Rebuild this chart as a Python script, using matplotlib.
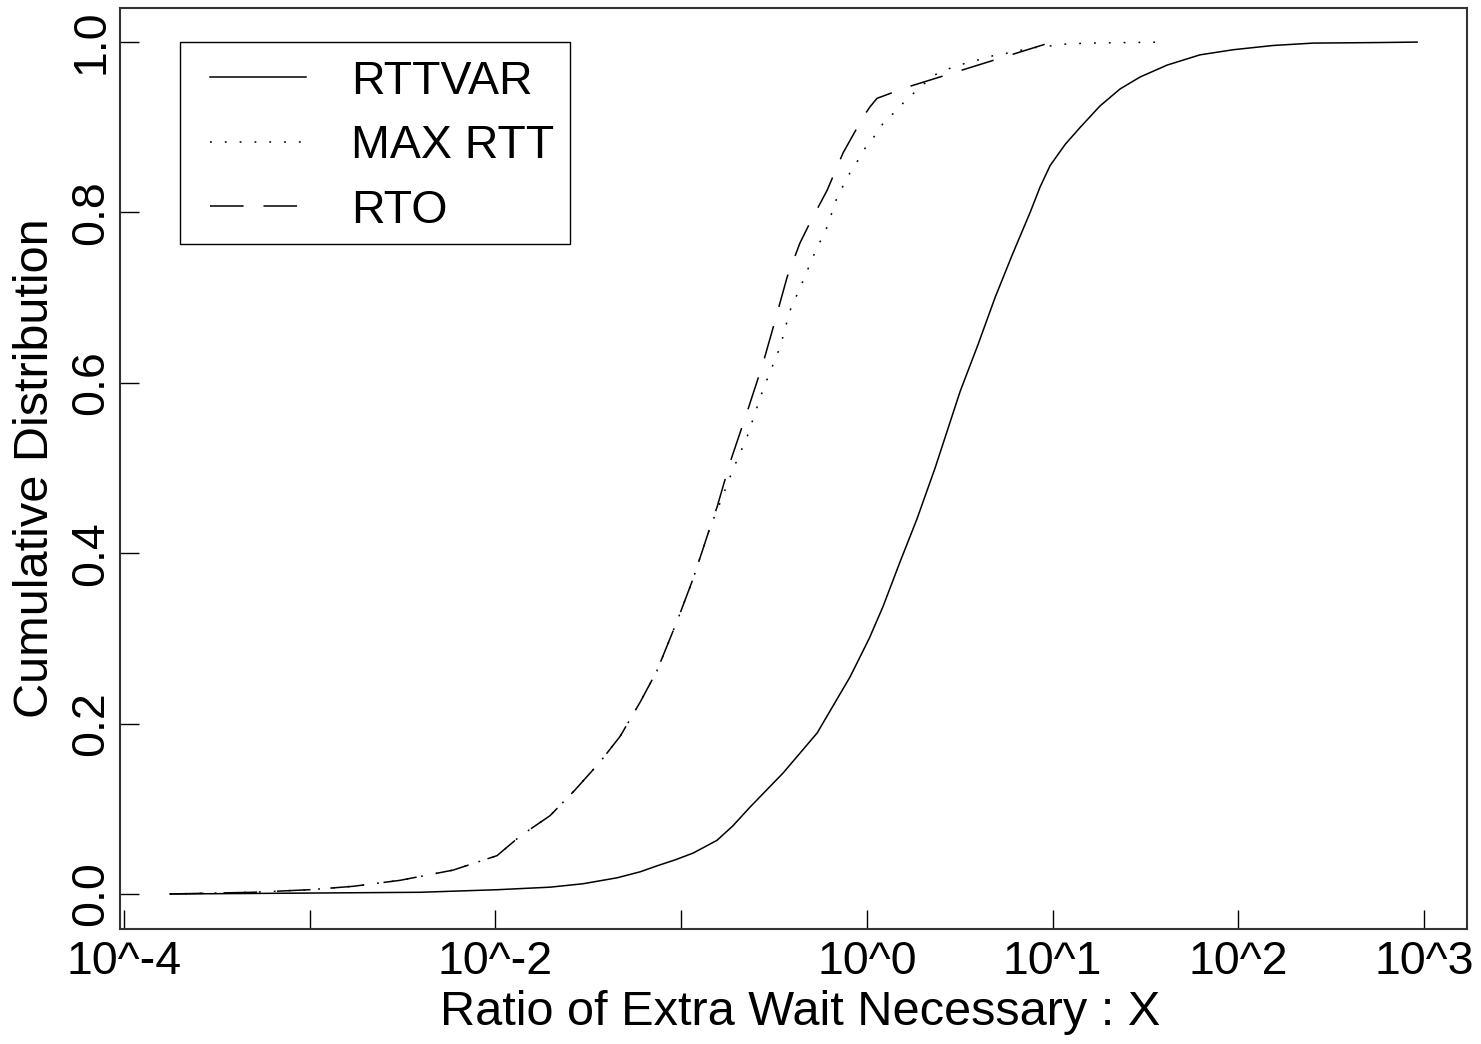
import matplotlib
matplotlib.use("Agg")
import matplotlib.pyplot as plt
from matplotlib.patches import Rectangle

plt.rcParams['font.family'] = ['Liberation Sans', 'DejaVu Sans']

# ---- data (ratio values, cumulative fraction) ----
rttvar_x = [1.77e-4, 8.87e-4, 3.93e-3, 0.0102, 0.0197, 0.0296, 0.0452, 0.0601,
            0.0741, 0.0927, 0.116, 0.156, 0.190, 0.235, 0.354, 0.540, 0.813,
            1.03, 1.22, 1.51, 1.86, 2.33, 3.18, 3.97, 4.90, 6.06, 7.57, 8.57,
            9.70, 11.7, 14.1, 18.0, 23.1, 29.6, 41.4, 62.2, 93.8, 154, 253,
            603, 918]
rttvar_y = [0.0, 0.001, 0.002, 0.005, 0.008, 0.012, 0.019, 0.026,
            0.033, 0.040, 0.048, 0.063, 0.080, 0.102, 0.142, 0.189, 0.255,
            0.30, 0.337, 0.39, 0.44, 0.50, 0.59, 0.645, 0.70, 0.75, 0.80, 0.83,
            0.855, 0.88, 0.90, 0.925, 0.945, 0.959, 0.973, 0.985, 0.991, 0.996,
            0.9988, 0.9995, 1.0]

maxrtt_x = [1.77e-4, 4.95e-4, 1.0e-3, 1.71e-3, 3.06e-3, 5.91e-3, 0.0102, 0.0136,
            0.0197, 0.0268, 0.0366, 0.0469, 0.0601, 0.0741, 0.0950, 0.116, 0.143,
            0.162, 0.190, 0.226, 0.276, 0.341, 0.386, 0.448, 0.513, 0.611, 0.692,
            0.813, 0.919, 1.00, 1.135, 1.25, 1.46, 1.645, 1.89, 2.24, 2.70, 3.26,
            3.97, 4.79, 6.06, 7.57, 9.34, 11.7, 15.5, 40.4]
maxrtt_y = [0.0, 0.002, 0.005, 0.009, 0.016, 0.028, 0.045, 0.068,
            0.092, 0.122, 0.155, 0.185, 0.225, 0.262, 0.32, 0.37, 0.43,
            0.459, 0.498, 0.536, 0.592, 0.642, 0.685, 0.717, 0.748, 0.783, 0.818,
            0.847, 0.865, 0.879, 0.893, 0.908, 0.920, 0.934, 0.944, 0.960, 0.968, 0.974,
            0.979, 0.984, 0.988, 0.993, 0.995, 0.9976, 0.9988, 1.0]

rto_x = [1.77e-4, 4.95e-4, 1.0e-3, 1.71e-3, 3.06e-3, 5.91e-3, 0.0102, 0.0136,
         0.0197, 0.0268, 0.0366, 0.0469, 0.0601, 0.0741, 0.0950, 0.116, 0.143,
         0.156, 0.183, 0.226, 0.276, 0.313, 0.372, 0.436, 0.494, 0.611, 0.745,
         0.955, 1.04, 1.135, 1.645, 9.93]
rto_y = [0.0, 0.002, 0.005, 0.009, 0.016, 0.028, 0.045, 0.068,
         0.092, 0.122, 0.155, 0.185, 0.225, 0.262, 0.32, 0.37, 0.43,
         0.454, 0.506, 0.565, 0.623, 0.665, 0.724, 0.764, 0.788, 0.826, 0.870,
         0.912, 0.924, 0.934, 0.947, 1.0]

series_labels = ["RTTVAR", "MAX RTT", "RTO"]
xtick_vals = [1e-4, 1e-3, 1e-2, 1e-1, 1e0, 1e1, 1e2, 1e3]
xtick_labels = ["10^-4", "", "10^-2", "", "10^0", "10^1", "10^2", "10^3"]
ytick_vals = [0.0, 0.2, 0.4, 0.6, 0.8, 1.0]
ytick_labels = ["0.0", "0.2", "0.4", "0.6", "0.8", "1.0"]

TICK_FS = 33.5
LABEL_FS = 35
LEG_FS = 33.5

fig = plt.figure(figsize=(14.81, 10.44), dpi=100)
ax = fig.add_axes([120/1481, (1044-929)/1044, (1467-120)/1481, (929-8)/1044])

lw = 1.1
ax.plot(rttvar_x, rttvar_y, color='black', lw=lw, label=series_labels[0])
l2, = ax.plot(maxrtt_x, maxrtt_y, color='black', lw=lw, label=series_labels[1])
l2.set_dashes((1.2, 8.5))
l3, = ax.plot(rto_x, rto_y, color='black', lw=lw, label=series_labels[2])
l3.set_dashes((22, 13))

ax.set_xscale('log')
ax.set_xlim(10**-4.0215, 10**3.2316)
ax.set_ylim(-0.0411, 1.04)

ax.set_xticks(xtick_vals)
ax.set_xticklabels(xtick_labels)
ax.minorticks_off()
ax.set_yticks(ytick_vals)
ax.set_yticklabels(ytick_labels, rotation=90, va='center')

ax.tick_params(axis='both', direction='in', length=13.5, width=1.0,
               labelsize=TICK_FS, color='black')
ax.tick_params(axis='x', pad=8)
ax.tick_params(axis='y', pad=5)

for sp in ax.spines.values():
    sp.set_linewidth(1.5)
    sp.set_color('#333333')

ax.set_xlabel("Ratio of Extra Wait Necessary : X", fontsize=LABEL_FS)
ax.xaxis.set_label_coords(0.505, -0.066)
ax.set_ylabel("Cumulative Distribution", fontsize=LABEL_FS, labelpad=8)

leg = ax.legend(loc='upper left', bbox_to_anchor=(0.0668, 0.944), borderaxespad=0,
                fontsize=LEG_FS, frameon=False,
                handlelength=2.07, handletextpad=0.97, borderpad=0.0,
                labelspacing=0.44)
# legend frame box
ax.add_patch(Rectangle((0.0445, 0.7438), 0.2895, 0.2193, transform=ax.transAxes,
                       fill=False, edgecolor='black', linewidth=1.0, zorder=5))

fig.savefig("out.png", dpi=100, facecolor='white')
